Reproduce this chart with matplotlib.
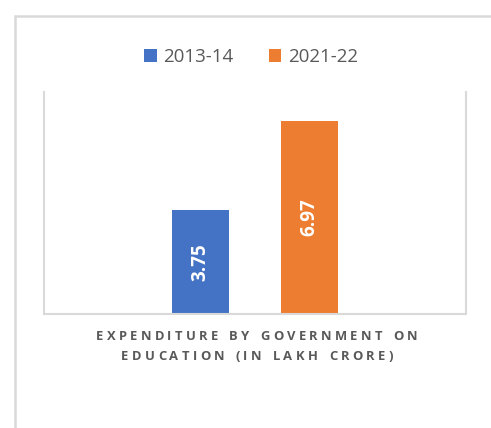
import matplotlib
matplotlib.use("Agg")
import matplotlib.pyplot as plt
from matplotlib.patches import Patch, Rectangle

# ------------------------------------ data ------------------------------------
series_names = ["2013-14", "2021-22"]
values = [3.75, 6.97]
colors = ["#4472C4", "#ED7D31"]
axis_title = ["EXPENDITURE BY GOVERNMENT ON", "EDUCATION (IN LAKH CRORE)"]

W, H = 491, 428
plt.rcParams['font.family'] = ['Open Sans', 'DejaVu Sans']

fig = plt.figure(figsize=(W / 100, H / 100), dpi=100)
fig.patch.set_facecolor("white")

# outer chart border (runs off right and bottom edges)
fig.add_artist(Rectangle((15 / W, -0.1), 1.2, (1 - 16 / H) + 0.1, transform=fig.transFigure,
                         fill=False, edgecolor="#d9d9d9", linewidth=1.8))

ax = fig.add_axes([44 / W, 1 - 314 / H, (466 - 44) / W, (314 - 92) / H])
offsets = [-0.13, 0.13]
bar_w = 0.135
for name, val, col, off in zip(series_names, values, colors, offsets):
    ax.bar(off, val, width=bar_w, color=col, label=name)
    ax.text(off, val / 2, f"{val:.2f}", rotation=90, ha="center", va="center",
            color="white", fontsize=13.5, fontweight="bold")

ax.set_xlim(-0.5, 0.5)
ax.set_ylim(0, 8)
ax.set_xticks([])
ax.set_yticks([])
for s in ["left", "right", "bottom"]:
    ax.spines[s].set_color("#d9d9d9")
    ax.spines[s].set_linewidth(1.5)
ax.spines["top"].set_visible(False)

# legend
handles = [Patch(facecolor=c, edgecolor="none") for c in colors]
fig.legend(handles, series_names, loc="center", bbox_to_anchor=(251 / W, 1 - 57 / H),
           ncol=2, frameon=False, fontsize=13.5, labelcolor="#595959",
           handlelength=0.65, handleheight=0.65, handletextpad=0.35, columnspacing=1.9)

# letter-spaced axis title, drawn char by char
renderer = fig.canvas.get_renderer()
tracking = 3.3
line_y = [337, 356]
for line, yc in zip(axis_title, line_y):
    widths = []
    for ch in line:
        t = fig.text(0, 0, ch if ch != " " else "n", fontsize=9.4, fontweight="bold")
        bb = t.get_window_extent(renderer)
        widths.append(bb.width * (0.55 if ch == " " else 1.0))
        t.remove()
    total = sum(widths) + tracking * (len(line) - 1)
    x = 257 - total / 2
    for ch, w in zip(line, widths):
        if ch != " ":
            fig.text(x / W, 1 - yc / H, ch, fontsize=9.4, fontweight="bold",
                     color="#595959", ha="left", va="center")
        x += w + tracking

fig.savefig("out.png", dpi=100)
